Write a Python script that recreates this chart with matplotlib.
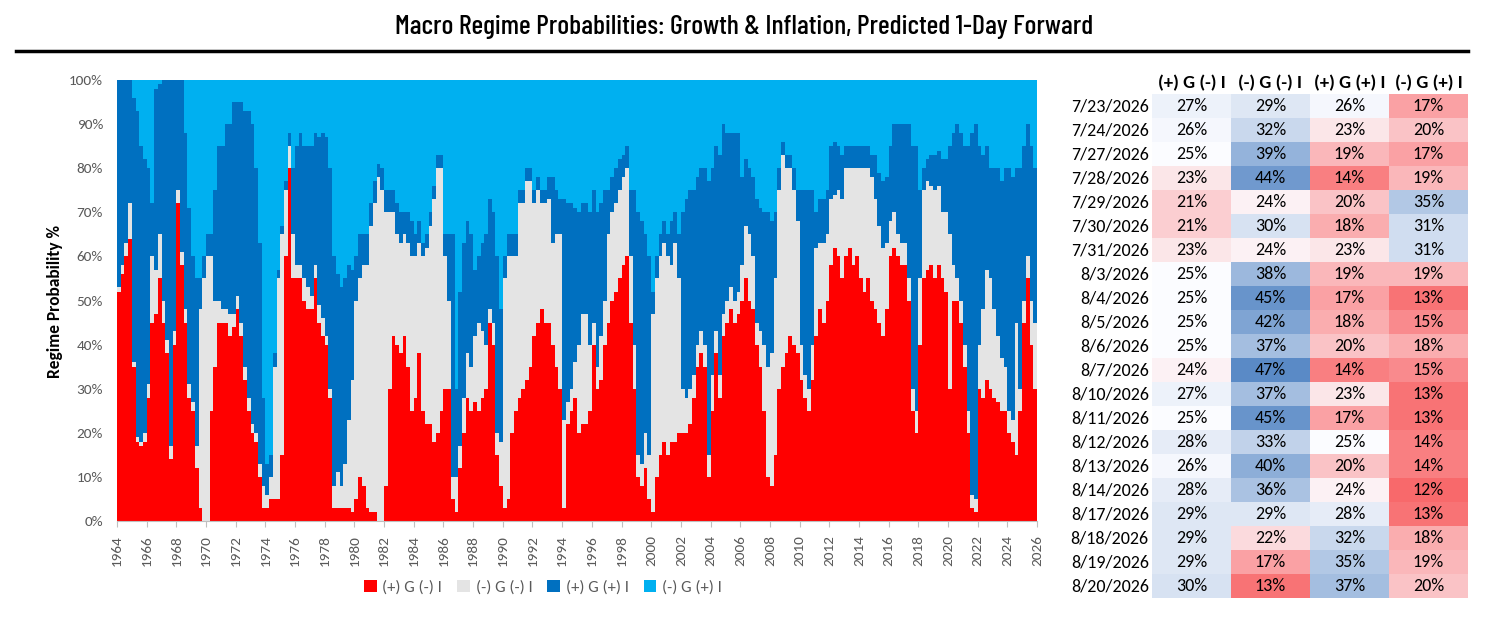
import matplotlib
matplotlib.use("Agg")
import matplotlib.pyplot as plt
import numpy as np
from matplotlib.colors import LinearSegmentedColormap, TwoSlopeNorm
from matplotlib.lines import Line2D
from matplotlib.patches import Patch, Rectangle

# quarterly regime probabilities (%), 1964 Q1 .. 2025 Q4
start_year = 1964
pos_g_neg_i = [
    52, 56, 60, 64,  35, 18, 17, 18,  28, 45, 47, 55,  45, 38, 14, 40,  72, 58, 45, 28,
    25, 12, 3, 0,  0, 25, 35, 45,  45, 45, 42, 44,  48, 42, 32, 25,  20, 18, 10, 3,
    3, 5, 5, 5,  15, 60, 80, 55,  55, 55, 50, 48,  48, 55, 45, 42,  40, 28, 3, 3,
    3, 3, 3, 2,  5, 10, 8, 3,  2, 2, 0, 0,  8, 30, 42, 40,  38, 42, 35, 25,
    28, 38, 25, 22,  22, 18, 20, 25,  30, 30, 5, 2,  12, 20, 28, 25,  27, 25, 28, 30,
    45, 40, 15, 8,  3, 5, 20, 25,  28, 30, 32, 35,  42, 45, 48, 45,  45, 40, 35, 30,
    3, 22, 25, 28,  20, 22, 22, 25,  40, 30, 32, 40,  45, 50, 52, 55,  58, 60, 45, 30,
    10, 8, 12, 5,  2, 10, 15, 18,  15, 18, 18, 20,  20, 20, 22, 28,  35, 38, 35, 10,
    25, 38, 28, 42,  45, 48, 45, 47,  50, 55, 50, 48,  40, 35, 25, 10,  8, 15, 30, 35,
    38, 42, 40, 38,  32, 28, 25, 32,  42, 48, 45, 50,  58, 62, 60, 55,  60, 62, 58, 60,
    55, 52, 55, 50,  48, 45, 42, 48,  60, 62, 60, 58,  58, 50, 25, 20,  40, 55, 57, 58,
    55, 58, 55, 52,  30, 50, 50, 45,  35, 20, 3, 2,  30, 28, 32, 30,  28, 27, 25, 25,
    20, 18, 15, 25,  45, 55, 40, 30,
]
neg_g_neg_i = [
    1, 2, 3, 8,  1, 1, 1, 2,  3, 15, 10, 10,  5, 3, 3, 3,  3, 3, 3, 3,
    2, 5, 45, 55,  60, 35, 15, 5,  3, 3, 5, 3,  3, 3, 3, 3,  2, 2, 3, 5,
    3, 5, 30, 50,  50, 15, 5, 10,  3, 3, 5, 5,  3, 3, 4, 4,  2, 2, 5, 8,
    5, 10, 20, 30,  45, 45, 50, 55,  65, 70, 78, 75,  62, 40, 28, 25,  25, 23, 28, 35,
    32, 25, 35, 40,  45, 55, 60, 55,  30, 20, 5, 8,  5, 8, 10, 10,  15, 20, 15, 10,
    3, 5, 5, 10,  52, 55, 40, 35,  44, 42, 45, 42,  30, 30, 24, 27,  28, 23, 30, 35,
    20, 5, 5, 8,  20, 25, 25, 15,  5, 5, 10, 10,  20, 20, 20, 20,  20, 20, 15, 10,
    5, 5, 8, 10,  45, 45, 45, 45,  45, 40, 45, 35,  10, 8, 8, 5,  5, 5, 5, 5,
    8, 5, 5, 5,  5, 5, 5, 5,  8, 12, 15, 12,  5, 8, 15, 25,  30, 40, 45, 48,
    42, 38, 35, 30,  8, 5, 5, 8,  20, 15, 18, 15,  15, 12, 15, 18,  20, 18, 22, 20,
    25, 28, 25, 28,  25, 22, 20, 15,  8, 8, 5, 5,  5, 5, 5, 5,  15, 20, 20, 18,
    20, 18, 15, 18,  35, 8, 5, 5,  5, 5, 3, 3,  10, 20, 25, 25,  20, 15, 12, 10,
    5, 5, 30, 5,  5, 5, 10, 15,
]
pos_g_pos_i = [
    47, 42, 37, 28,  60, 74, 67, 62,  49, 12, 41, 34,  50, 59, 83, 57,  25, 39, 40, 40,
    33, 38, 7, 5,  5, 5, 25, 35,  37, 42, 43, 48,  44, 50, 58, 65,  68, 60, 50, 20,
    7, 5, 3, 2,  2, 2, 3, 15,  27, 30, 30, 32,  34, 30, 38, 42,  45, 50, 52, 45,
    45, 42, 35, 25,  10, 10, 7, 7,  5, 5, 3, 5,  5, 5, 5, 7,  7, 5, 7, 8,
    5, 5, 3, 3,  3, 3, 3, 3,  5, 15, 55, 20,  35, 35, 30, 30,  15, 15, 20, 25,
    25, 25, 40, 30,  5, 5, 5, 5,  3, 3, 3, 3,  3, 3, 3, 3,  5, 15, 10, 8,
    50, 45, 42, 35,  30, 25, 25, 30,  30, 35, 30, 25,  10, 8, 8, 7,  5, 5, 15, 35,
    55, 55, 45, 45,  5, 5, 5, 5,  5, 10, 7, 10,  40, 45, 45, 42,  38, 37, 40, 62,
    47, 42, 50, 43,  38, 35, 38, 36,  20, 15, 15, 18,  28, 28, 30, 35,  30, 15, 5, 3,
    3, 3, 5, 7,  35, 42, 45, 35,  8, 10, 10, 10,  12, 12, 10, 10,  5, 5, 5, 5,
    5, 5, 5, 5,  10, 12, 15, 15,  17, 20, 25, 27,  27, 35, 55, 60,  20, 5, 5, 7,
    8, 8, 12, 12,  20, 30, 35, 38,  45, 60, 82, 85,  45, 35, 28, 25,  32, 38, 40, 45,
    55, 55, 35, 50,  35, 30, 35, 35,
]
neg_g_pos_i = [
    0, 0, 0, 0,  4, 7, 15, 18,  20, 28, 2, 1,  0, 0, 0, 0,  0, 0, 12, 29,
    40, 45, 45, 40,  35, 35, 25, 15,  15, 10, 10, 5,  5, 5, 7, 7,  10, 20, 37, 72,
    87, 85, 62, 43,  33, 23, 12, 20,  15, 12, 15, 15,  15, 12, 13, 12,  13, 20, 40, 44,
    47, 45, 42, 43,  40, 35, 35, 35,  28, 23, 19, 20,  25, 25, 25, 28,  30, 30, 30, 32,
    35, 32, 37, 35,  30, 24, 17, 17,  35, 35, 35, 70,  48, 37, 32, 35,  43, 40, 37, 35,
    27, 30, 40, 52,  40, 35, 35, 35,  25, 25, 20, 20,  25, 22, 25, 25,  22, 22, 25, 27,
    27, 28, 28, 29,  30, 28, 28, 30,  25, 30, 28, 25,  25, 22, 20, 18,  17, 15, 25, 25,
    30, 32, 35, 40,  48, 40, 35, 32,  35, 32, 30, 35,  30, 27, 25, 25,  22, 20, 20, 23,
    20, 15, 17, 10,  12, 12, 12, 12,  22, 18, 20, 22,  27, 29, 30, 30,  32, 30, 20, 14,
    17, 17, 20, 25,  25, 25, 25, 25,  30, 27, 27, 25,  15, 14, 15, 17,  15, 15, 15, 15,
    15, 15, 15, 17,  17, 21, 23, 22,  15, 10, 10, 10,  10, 10, 15, 15,  25, 20, 18, 17,
    17, 16, 18, 18,  15, 12, 10, 12,  15, 15, 12, 10,  15, 17, 15, 20,  20, 20, 23, 20,
    20, 22, 20, 20,  15, 10, 15, 20,
]

regime_labels = ["(+) G (-) I", "(-) G (-) I", "(+) G (+) I", "(-) G (+) I"]
regime_colors = ["#FF0000", "#E4E4E4", "#0070C0", "#00B0F0"]

# latest daily readings shown in the table
table_dates = ["7/23/2026", "7/24/2026", "7/27/2026", "7/28/2026", "7/29/2026", "7/30/2026",
               "7/31/2026", "8/3/2026", "8/4/2026", "8/5/2026", "8/6/2026", "8/7/2026",
               "8/10/2026", "8/11/2026", "8/12/2026", "8/13/2026", "8/14/2026", "8/17/2026",
               "8/18/2026", "8/19/2026", "8/20/2026"]
tbl_pos_g_neg_i = [27, 26, 25, 23, 21, 21, 23, 25, 25, 25, 25, 24, 27, 25, 28, 26, 28, 29, 29, 29, 30]
tbl_neg_g_neg_i = [29, 32, 39, 44, 24, 30, 24, 38, 45, 42, 37, 47, 37, 45, 33, 40, 36, 29, 22, 17, 13]
tbl_pos_g_pos_i = [26, 23, 19, 14, 20, 18, 23, 19, 17, 18, 20, 14, 23, 17, 25, 20, 24, 28, 32, 35, 37]
tbl_neg_g_pos_i = [17, 20, 17, 19, 35, 31, 31, 19, 13, 15, 18, 15, 13, 13, 14, 14, 12, 13, 18, 19, 20]

W, H = 1488, 620
fig = plt.figure(figsize=(W / 100, H / 100), dpi=100)
base_font = ["Carlito", "Lato", "DejaVu Sans"]
grey_txt = "#595959"

# title + rule
fig.text(0.5, 1 - 27 / H, "Macro Regime Probabilities: Growth & Inflation, Predicted 1-Day Forward",
         ha="center", va="center", fontsize=20, family=["Barlow Condensed", "DejaVu Sans"],
         fontweight=500, color="black")
fig.add_artist(Line2D([16 / W, 1468 / W], [1 - 51 / H, 1 - 51 / H], color="black", lw=2.5))

# stacked area chart
ax = fig.add_axes([117 / W, 1 - 521 / H, 920 / W, 441 / H])
series = [pos_g_neg_i, neg_g_neg_i, pos_g_pos_i, neg_g_pos_i]
n = len(pos_g_neg_i)
x = start_year + np.arange(n + 1) * 0.25
vals = [np.append(s, s[-1]) for s in series]
ax.stackplot(x, *vals, colors=regime_colors, step="post", linewidth=0)
ax.set_xlim(start_year, start_year + n * 0.25)
ax.set_ylim(0, 100)
ax.set_xticks(np.arange(1964, 2027, 2))
ax.set_xticklabels([str(y) for y in range(1964, 2027, 2)], rotation=90, fontsize=11,
                   color=grey_txt, family=base_font)
ax.set_yticks(np.arange(0, 101, 10))
ax.set_yticklabels([f"{v}%" for v in range(0, 101, 10)], fontsize=11, color=grey_txt, family=base_font)
ax.tick_params(axis="y", length=0, pad=10)
ax.tick_params(axis="x", length=4, color="#BFBFBF", pad=6)
for side in ["top", "right", "left"]:
    ax.spines[side].set_visible(False)
ax.spines["bottom"].set_color("#BFBFBF")

fig.text(55 / W, 1 - 301 / H, "Regime Probability %", rotation=90, ha="center", va="center",
         fontsize=12.5, fontweight="bold", family=base_font)

handles = [Patch(facecolor=c, edgecolor="none") for c in regime_colors]
leg = fig.legend(handles, regime_labels, loc="center", bbox_to_anchor=(543 / W, 1 - 587 / H),
                 ncol=4, frameon=False, handlelength=0.75, handleheight=0.75,
                 handletextpad=0.35, columnspacing=0.9, prop={"family": base_font, "size": 12})
for t in leg.get_texts():
    t.set_color(grey_txt)

# heat-map table
tax = fig.add_axes([1152 / W, 1 - 598 / H, 316 / W, 504 / H])
tax.set_xlim(0, 4)
tax.set_ylim(len(table_dates), 0)
tax.axis("off")
cols = [tbl_pos_g_neg_i, tbl_neg_g_neg_i, tbl_pos_g_pos_i, tbl_neg_g_pos_i]
all_vals = np.array(cols).ravel()
cmap = LinearSegmentedColormap.from_list("xl", ["#F8696B", "#FCFCFF", "#5A8AC6"])
norm = TwoSlopeNorm(vmin=all_vals.min(), vcenter=25, vmax=all_vals.max())
for j, col in enumerate(cols):
    tax.text(j + 0.5, -0.45, regime_labels[j], ha="center", va="center", fontsize=13.5,
             fontweight="bold", family=base_font, clip_on=False)
    for i, v in enumerate(col):
        tax.add_patch(Rectangle((j, i), 1, 1, facecolor=cmap(norm(v)), edgecolor="none"))
        tax.text(j + 0.5, i + 0.5, f"{v}%", ha="center", va="center", fontsize=13, family=base_font)
for i, d in enumerate(table_dates):
    tax.text(-0.04, i + 0.5, d, ha="right", va="center", fontsize=13, family=base_font, clip_on=False)

fig.savefig("out.png", dpi=100)
